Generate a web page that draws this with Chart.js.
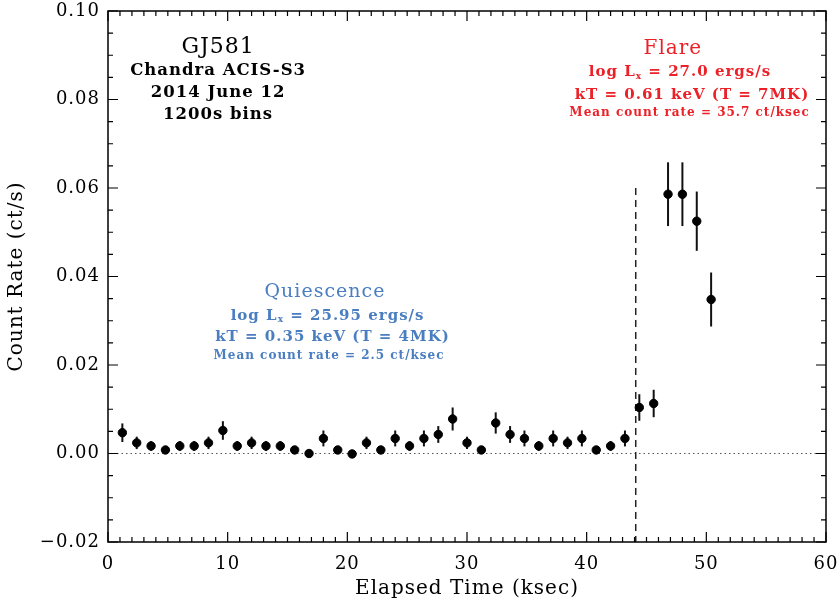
<!DOCTYPE html>
<html><head><meta charset="utf-8">
<script src="https://cdn.jsdelivr.net/npm/chart.js@4"></script>
<style>html,body{margin:0;padding:0;background:#fff}#wrap{width:840px;height:601px}</style>
</head><body><div id="wrap"><canvas id="c" width="840" height="601"></canvas></div>
<script>
const binCenters = [1.2,2.4,3.6,4.8,6.0,7.2,8.4,9.6,10.8,12.0,13.2,14.4,15.6,16.8,18.0,19.2,20.4,21.6,22.8,24.0,25.2,26.4,27.6,28.8,30.0,31.2,32.4,33.6,34.8,36.0,37.2,38.4,39.6,40.8,42.0,43.2,44.4,45.6,46.8,48.0,49.2,50.4];
const countRate = [0.0047,0.0024,0.0017,0.0008,0.0017,0.0017,0.0024,0.0052,0.0017,0.0024,0.0017,0.0017,0.0008,0.0000,0.0034,0.0008,-0.0001,0.0024,0.0008,0.0034,0.0017,0.0034,0.0043,0.0078,0.0024,0.0008,0.0069,0.0043,0.0034,0.0017,0.0034,0.0024,0.0034,0.0008,0.0017,0.0034,0.0104,0.0113,0.0586,0.0586,0.0525,0.0348];
const rateErr = [0.0021,0.0014,0.0011,0.0006,0.0011,0.0011,0.0014,0.0021,0.0011,0.0014,0.0011,0.0011,0.0006,0.0002,0.0018,0.0006,0.0002,0.0014,0.0006,0.0018,0.0011,0.0018,0.0019,0.0026,0.0014,0.0006,0.0024,0.0019,0.0018,0.0011,0.0018,0.0014,0.0018,0.0006,0.0011,0.0018,0.0030,0.0031,0.0072,0.0072,0.0067,0.0061];
const flareStart = 44.1;
const flareLineTop = 0.060;
const xTickStep = 10, yTickStep = 0.02;
const xLabel = 'Elapsed Time (ksec)';
const yLabel = 'Count Rate (ct/s)';
const infoLines = ['GJ581','Chandra ACIS-S3','2014 June 12','1200s bins'];
const flareLines = ['Flare','27.0 ergs/s','kT = 0.61 keV (T = 7MK)','Mean count rate = 35.7 ct/ksec'];
const quietLines = ['Quiescence','25.95 ergs/s','kT = 0.35 keV (T = 4MK)','Mean count rate = 2.5 ct/ksec'];

const SERIF = '"DejaVu Serif", "Liberation Serif", serif';
const RED = '#ec2128', BLUE = '#4a7ec0';

const points = binCenters.map((x,i)=>({x:x,y:countRate[i]}));

function drawLx(ctx, cx, cy, rest, size){
  ctx.font = 'bold '+size+'px '+SERIF;
  const a = 'log L';
  const b = ' = '+rest;
  const sub = 'x';
  const wa = ctx.measureText(a).width, wb = ctx.measureText(b).width;
  ctx.font = 'bold '+Math.round(size*0.62)+'px '+SERIF;
  const ws = ctx.measureText(sub).width;
  const total = wa+ws+wb;
  let x0 = cx - total/2;
  ctx.textAlign='left';
  ctx.font = 'bold '+size+'px '+SERIF;
  ctx.fillText(a, x0, cy);
  ctx.font = 'bold '+Math.round(size*0.62)+'px '+SERIF;
  ctx.fillText(sub, x0+wa, cy+size*0.25);
  ctx.font = 'bold '+size+'px '+SERIF;
  ctx.fillText(b, x0+wa+ws, cy);
  ctx.textAlign='center';
}

const spacing = {
  id:'spacing',
  beforeInit(chart){ chart.ctx.letterSpacing='1px'; },
  beforeDraw(chart){ chart.ctx.letterSpacing='1px'; }
};

const decor = {
  id:'decor',
  beforeDatasetsDraw(chart){
    const {ctx, chartArea:a, scales:{x,y}} = chart;
    ctx.save();
    ctx.strokeStyle='#555'; ctx.lineWidth=1; ctx.setLineDash([1.5,3]);
    ctx.beginPath(); ctx.moveTo(a.left, y.getPixelForValue(0)); ctx.lineTo(a.right, y.getPixelForValue(0)); ctx.stroke();
    ctx.strokeStyle='#222'; ctx.lineWidth=1.5; ctx.setLineDash([7,5]);
    ctx.beginPath(); ctx.moveTo(x.getPixelForValue(flareStart), y.getPixelForValue(flareLineTop)); ctx.lineTo(x.getPixelForValue(flareStart), a.bottom); ctx.stroke();
    ctx.setLineDash([]);
    ctx.strokeStyle='#111'; ctx.lineWidth=2;
    binCenters.forEach((bx,i)=>{
      const px = x.getPixelForValue(bx);
      ctx.beginPath();
      ctx.moveTo(px, y.getPixelForValue(countRate[i]-rateErr[i]));
      ctx.lineTo(px, y.getPixelForValue(countRate[i]+rateErr[i]));
      ctx.stroke();
    });
    ctx.restore();
  },
  afterDraw(chart){
    const {ctx, chartArea:a, scales:{x,y}} = chart;
    ctx.save();
    ctx.strokeStyle='#000'; ctx.lineWidth=1.5;
    ctx.strokeRect(a.left, a.top, a.right-a.left, a.bottom-a.top);
    ctx.lineWidth=1.2;
    for(let k=0; k<=60; k++){
      const v = x.min + k;
      const px = x.getPixelForValue(v);
      const len = (k%xTickStep===0)?10:5;
      ctx.beginPath(); ctx.moveTo(px,a.bottom); ctx.lineTo(px,a.bottom-len);
      ctx.moveTo(px,a.top); ctx.lineTo(px,a.top+len); ctx.stroke();
    }
    for(let k=0; k<=24; k++){
      const v = y.min + k*0.005;
      const py = y.getPixelForValue(v);
      const len = (k%4===0)?10:5;
      ctx.beginPath(); ctx.moveTo(a.left,py); ctx.lineTo(a.left+len,py);
      ctx.moveTo(a.right,py); ctx.lineTo(a.right-len,py); ctx.stroke();
    }
    ctx.letterSpacing='1px';
    ctx.textAlign='center'; ctx.textBaseline='middle';
    ctx.fillStyle='#000';
    const ix = x.getPixelForValue(9.2);
    ctx.font='22px '+SERIF; ctx.fillText(infoLines[0], ix, y.getPixelForValue(0.0917));
    ctx.font='bold 16.5px '+SERIF;
    ctx.fillText(infoLines[1], ix, y.getPixelForValue(0.0866));
    ctx.fillText(infoLines[2], ix, y.getPixelForValue(0.0816));
    ctx.fillText(infoLines[3], ix, y.getPixelForValue(0.0766));
    ctx.fillStyle=RED;
    ctx.font='20px '+SERIF; ctx.fillText(flareLines[0], x.getPixelForValue(47.2), y.getPixelForValue(0.0915));
    drawLx(ctx, x.getPixelForValue(47.8), y.getPixelForValue(0.0861), flareLines[1], 15);
    ctx.font='bold 15px '+SERIF; ctx.fillText(flareLines[2], x.getPixelForValue(48.8), y.getPixelForValue(0.0811));
    ctx.font='bold 12px '+SERIF; ctx.fillText(flareLines[3], x.getPixelForValue(48.6), y.getPixelForValue(0.0770));
    ctx.fillStyle=BLUE;
    ctx.font='19px '+SERIF; ctx.fillText(quietLines[0], x.getPixelForValue(18.13), y.getPixelForValue(0.0364));
    drawLx(ctx, x.getPixelForValue(18.35), y.getPixelForValue(0.0310), quietLines[1], 15);
    ctx.font='bold 15px '+SERIF; ctx.fillText(quietLines[2], x.getPixelForValue(18.76), y.getPixelForValue(0.0262));
    ctx.font='bold 12px '+SERIF; ctx.fillText(quietLines[3], x.getPixelForValue(18.47), y.getPixelForValue(0.0221));
    ctx.restore();
  }
};

new Chart(document.getElementById('c'), {
  type:'scatter',
  data:{datasets:[{data:points, backgroundColor:'#000', borderColor:'#000', pointRadius:4.2, pointHoverRadius:4.2, showLine:false}]},
  options:{
    responsive:false, animation:false, devicePixelRatio:1,
    layout:{padding:{top:11,right:14,left:0,bottom:0}},
    plugins:{legend:{display:false}, tooltip:{enabled:false}},
    scales:{
      x:{type:'linear', min:0, max:60,
        afterFit(s){s.height=59; s.paddingLeft=0; s.paddingRight=0;},
        grid:{display:false, drawTicks:false},
        border:{display:false},
        ticks:{stepSize:xTickStep, padding:12, color:'#000', font:{family:SERIF, size:18}, maxRotation:0,
          callback:v=>String(v)},
        title:{display:true, text:xLabel, color:'#000', font:{family:SERIF, size:20}, padding:{top:0,bottom:0}}
      },
      y:{type:'linear', min:-0.02, max:0.10,
        afterFit(s){s.width=108; s.paddingTop=0; s.paddingBottom=0;},
        grid:{display:false, drawTicks:false},
        border:{display:false},
        ticks:{stepSize:yTickStep, padding:8, color:'#000', font:{family:SERIF, size:18},
          callback:v=>{const s=Number(v).toFixed(2); return s.startsWith('-')?'\u2212'+s.slice(1):s;}},
        title:{display:true, text:yLabel, color:'#000', font:{family:SERIF, size:20}, padding:{top:5,bottom:0}}
      }
    }
  },
  plugins:[spacing, decor]
});
</script></body></html>
